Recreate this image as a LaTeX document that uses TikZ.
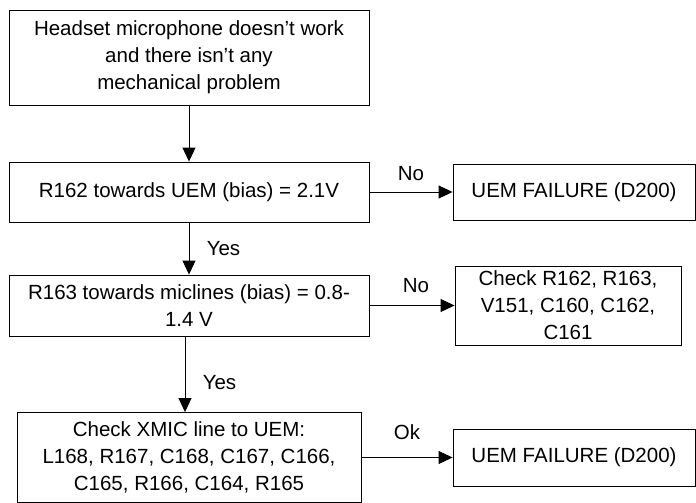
\documentclass[tikz,border=0pt]{standalone}
\usepackage{fontspec}
\setmainfont{Liberation Sans}
\usetikzlibrary{arrows.meta}
\tikzset{
  box/.style={draw, line width=0.9pt, align=center, inner sep=0pt,
    font=\fontsize{20.5}{27}\selectfont},
  arr/.style={draw, line width=0.9pt, -{Triangle[length=14pt,width=13pt]}},
  lbl/.style={font=\fontsize{20.5}{24}\selectfont}
}
\begin{document}
\begin{tikzpicture}[x=1pt,y=-1pt]
\useasboundingbox (0,0) rectangle (696,503);
\node[box, minimum width=360pt, minimum height=95pt] (start) at (189,57.5) {Headset microphone doesn’t work\\and there isn’t any\\mechanical problem};
\node[box, minimum width=360pt, minimum height=60pt] (r162) at (189,192) {R162 towards UEM (bias) = 2.1V};
\node[box, minimum width=360pt, minimum height=61pt] (r163) at (189,305.5) {R163 towards miclines (bias) = 0.8-\\1.4 V};
\node[box, minimum width=344pt, minimum height=90pt] (xmic) at (189,457.5) {Check XMIC line to UEM:\\L168, R167, C168, C167, C166,\\C165, R166, C164, R165};
\node[box, minimum width=242pt, minimum height=56pt] (uem1) at (574,192) {UEM FAILURE (D200)};
\node[box, minimum width=226pt, minimum height=79pt] (check) at (568,305.5) {Check R162, R163,\\V151, C160, C162,\\C161};
\node[box, minimum width=242pt, minimum height=57pt] (uem2) at (574,457.5) {UEM FAILURE (D200)};

\path[arr] (start) -- (r162);
\path[arr] (r162) -- node[lbl, right=14pt] {Yes} (r163);
\path[arr] ([xshift=-4pt]r163.south) -- node[lbl, right=14pt, yshift=-8pt] {Yes} ([xshift=-4pt]xmic.north);
\path[arr] (r162) -- node[lbl, above=8pt] {No} (uem1);
\path[arr] (r163) -- node[lbl, above=9pt, xshift=4pt] {No} (check);
\path[arr] (xmic) -- node[lbl, above=14pt] {Ok} (uem2);
\end{tikzpicture}
\end{document}
